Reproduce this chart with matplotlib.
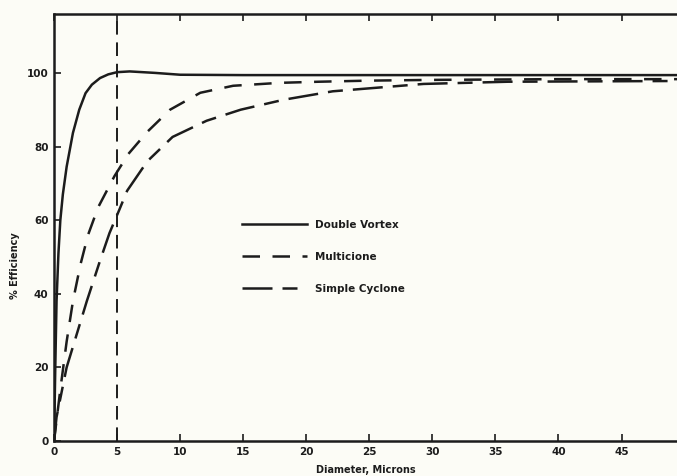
import matplotlib
matplotlib.use("Agg")
import matplotlib.pyplot as plt

# values
double_x = [0, 0.1, 0.2, 0.35, 0.5, 0.7, 1.0, 1.5, 2.0, 2.5, 3.0, 3.65, 4.3, 5.0, 6.0, 8.0, 10, 15, 20, 30, 40, 49.4]
double_y = [0, 20, 38, 51, 60, 67, 74.5, 83.7, 90, 94.5, 96.8, 98.6, 99.6, 100.2, 100.4, 100, 99.5, 99.4, 99.4, 99.4, 99.4, 99.4]

multi_x = [0, 0.5, 1.0, 1.5, 2.1, 2.7, 3.5, 4.8, 5.9, 7.4, 9.2, 11.6, 14.2, 17.9, 21, 25, 30, 40, 49.4]
multi_y = [0, 14, 27, 38, 48, 56, 63.5, 72, 78, 84, 90, 94.6, 96.5, 97.3, 97.6, 97.9, 98.1, 98.3, 98.3]

simple_x = [0, 0.2, 1.0, 1.8, 2.6, 3.65, 4.4, 5.2, 5.8, 7.4, 9.4, 12.1, 14.8, 18.2, 22.1, 29.3, 36, 49.4]
simple_y = [0, 6.5, 20, 29, 38, 49, 56.5, 63, 68, 76, 82.6, 87, 90, 92.7, 95, 97, 97.6, 97.8]

x_ticks = [0, 5, 10, 15, 20, 25, 30, 35, 40, 45]
y_ticks = [0, 20, 40, 60, 80, 100]
marker_x = 5

ink = "#1c1c1c"
paper = "#fcfcf6"

plt.rcParams["font.family"] = ["DejaVu Sans"]
plt.rcParams["font.weight"] = "bold"

fig = plt.figure(figsize=(6.77, 4.76), dpi=100, facecolor=paper)
ax = fig.add_axes([0.0798, 0.0735, 0.9202, 0.8971], facecolor=paper)

ax.plot(double_x, double_y, color=ink, lw=1.8, label="Double Vortex")
ax.plot(multi_x, multi_y, color=ink, lw=1.8, dashes=(7, 5), label="Multicione")
ax.plot(simple_x, simple_y, color=ink, lw=1.8, dashes=(12, 4, 6, 4), label="Simple Cyclone")
ax.axvline(marker_x, color=ink, lw=1.4, dashes=(7, 4))

ax.set_xlim(0, 49.4)
ax.set_ylim(0, 116)
ax.set_xticks(x_ticks)
ax.set_yticks(y_ticks)
ax.tick_params(axis="both", direction="in", length=5, width=1.2, colors=ink,
               labelsize=7.5, pad=4)
ax.tick_params(axis="x", top=True)
for lab in ax.get_xticklabels() + ax.get_yticklabels():
    lab.set_fontweight("bold")

for side in ["left", "top", "bottom"]:
    ax.spines[side].set_linewidth(1.8)
    ax.spines[side].set_color(ink)
ax.spines["right"].set_visible(False)

ax.set_xlabel("Diameter, Microns", fontsize=7, fontweight="bold", color=ink, labelpad=6)
ax.set_ylabel("% Efficiency", fontsize=7, fontweight="bold", color=ink)
ax.yaxis.set_label_coords(-0.055, 0.41)

leg = ax.legend(loc="upper left", bbox_to_anchor=(0.287, 0.54), frameon=False,
                handlelength=6.2, labelspacing=2.1, handletextpad=0.8,
                prop={"size": 7.5, "weight": "bold"})
for t in leg.get_texts():
    t.set_color(ink)

fig.savefig("out.png", dpi=100, facecolor=paper)
